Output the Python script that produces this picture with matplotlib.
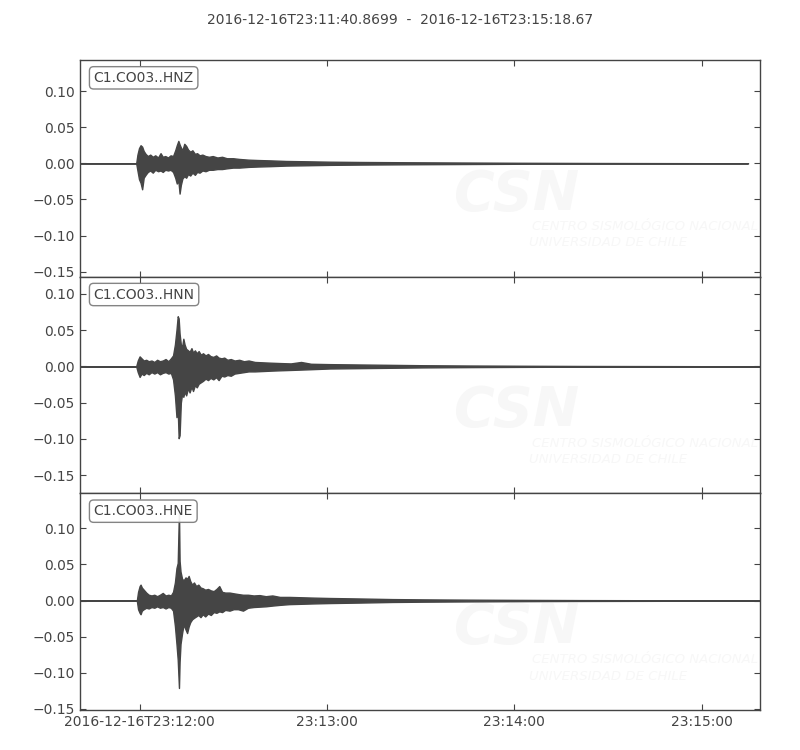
#-----------------------------------------------------------------------
#---- plot.py : trois composantes accelerometre C1.CO03 (style ObsPy)
#-----------------------------------------------------------------------

from datetime import datetime

import numpy as np
import matplotlib
matplotlib.use("Agg")
import matplotlib.pyplot as plt
import matplotlib.dates as mdates


#---- Temps de debut / fin de la fenetre
t_start = datetime(2016, 12, 16, 23, 11, 40, 869900)
t_end = datetime(2016, 12, 16, 23, 15, 18, 670000)
title = "2016-12-16T23:11:40.8699  -  2016-12-16T23:15:18.67"

channels = ["C1.CO03..HNZ", "C1.CO03..HNN", "C1.CO03..HNE"]

#---- Enveloppes (s depuis t_start, amplitude)
hnz_t = [0.0, 18.0, 18.4, 18.9, 19.4, 19.9, 20.4, 21.0, 21.7, 22.5, 23.3, 24.1,
         25.0, 25.8, 26.5, 27.3, 28.2, 29.0, 29.8, 30.5, 31.0, 31.5, 31.9, 32.3,
         32.8, 33.4, 34.0, 34.6, 35.3, 36.0, 36.8, 37.5, 38.3, 39.2, 40.2, 41.3,
         42.5, 44.0, 45.5, 47.0, 49.0, 51.0, 54.0, 57.0, 61.0, 66.0, 72.0, 80.0,
         90.0, 105.0, 120.0, 140.0, 165.0, 190.0, 214.0]
hnz_up = [0.0, 0.0, 0.012, 0.021, 0.025, 0.023, 0.017, 0.013, 0.010, 0.012, 0.009, 0.011,
          0.008, 0.014, 0.009, 0.010, 0.008, 0.011, 0.010, 0.018, 0.025, 0.031, 0.026, 0.022,
          0.018, 0.027, 0.024, 0.019, 0.016, 0.018, 0.013, 0.014, 0.011, 0.012, 0.010, 0.009,
          0.010, 0.008, 0.009, 0.007, 0.007, 0.006, 0.005, 0.0045, 0.004, 0.0032, 0.0028, 0.0022,
          0.0018, 0.0014, 0.0011, 0.0007, 0.0004, 0.0002, 0.0]
hnz_lo = [0.0, 0.0, -0.010, -0.022, -0.027, -0.036, -0.020, -0.016, -0.012, -0.010, -0.013, -0.009,
          -0.011, -0.010, -0.012, -0.009, -0.010, -0.009, -0.012, -0.020, -0.028, -0.024, -0.042, -0.030,
          -0.021, -0.018, -0.020, -0.015, -0.017, -0.013, -0.016, -0.012, -0.013, -0.010, -0.011, -0.009,
          -0.009, -0.008, -0.008, -0.007, -0.006, -0.006, -0.005, -0.0045, -0.004, -0.0032, -0.0028, -0.0022,
          -0.0018, -0.0014, -0.0011, -0.0007, -0.0004, -0.0002, 0.0]

hnn_t = [0.0, 18.0, 18.5, 19.1, 19.7, 20.4, 21.2, 22.0, 22.9, 23.8, 24.7, 25.6,
         26.5, 27.4, 28.3, 29.1, 29.8, 30.4, 30.9, 31.3, 31.6, 31.9, 32.3, 32.7,
         33.1, 33.5, 34.0, 34.6, 35.1, 35.7, 36.2, 36.8, 37.4, 38.0, 38.7, 39.4,
         40.2, 41.0, 41.8, 42.7, 43.6, 44.4, 45.3, 46.2, 47.2, 48.3, 49.5, 51.0,
         52.5, 54.0, 56.0, 58.5, 61.0, 64.0, 67.5, 70.8, 74.0, 80.0, 90.0, 100.0,
         110.0, 125.0, 140.0, 160.0, 185.0, 217.8]
hnn_up = [0.0, 0.0, 0.008, 0.0137, 0.011, 0.008, 0.009, 0.007, 0.008, 0.006, 0.009, 0.007,
          0.008, 0.010, 0.007, 0.011, 0.015, 0.030, 0.050, 0.069, 0.066, 0.045, 0.030, 0.027,
          0.038, 0.030, 0.024, 0.022, 0.020, 0.025, 0.019, 0.022, 0.018, 0.021, 0.016, 0.018,
          0.015, 0.017, 0.014, 0.013, 0.015, 0.012, 0.011, 0.012, 0.009, 0.010, 0.008, 0.009,
          0.007, 0.008, 0.006, 0.0055, 0.005, 0.0045, 0.004, 0.006, 0.0035, 0.003, 0.0025, 0.002,
          0.0015, 0.0011, 0.0008, 0.0005, 0.0003, 0.0]
hnn_lo = [0.0, 0.0, -0.008, -0.0146, -0.010, -0.012, -0.009, -0.011, -0.008, -0.010, -0.008, -0.011,
          -0.009, -0.008, -0.010, -0.009, -0.018, -0.040, -0.070, -0.060, -0.099, -0.095, -0.050, -0.038,
          -0.042, -0.035, -0.040, -0.030, -0.036, -0.028, -0.034, -0.026, -0.029, -0.024, -0.022, -0.020,
          -0.017, -0.019, -0.016, -0.018, -0.015, -0.019, -0.013, -0.014, -0.012, -0.013, -0.010, -0.009,
          -0.008, -0.007, -0.007, -0.0065, -0.006, -0.0055, -0.005, -0.0045, -0.004, -0.003, -0.0025, -0.002,
          -0.0015, -0.0011, -0.0008, -0.0005, -0.0003, 0.0]

hne_t = [0.0, 18.2, 18.6, 19.1, 19.4, 19.8, 20.4, 21.2, 22.0, 22.9, 23.8, 24.7,
         25.6, 26.5, 27.4, 28.3, 29.1, 29.8, 30.4, 30.9, 31.3, 31.7, 31.9, 32.2,
         32.7, 33.2, 33.8, 34.3, 34.8, 35.3, 35.9, 36.5, 37.2, 37.9, 38.6, 39.3,
         40.1, 41.0, 41.9, 42.8, 43.7, 44.6, 45.5, 46.5, 47.9, 49.2, 50.6, 52.2,
         53.8, 55.6, 57.5, 59.5, 61.6, 64.0, 67.0, 71.0, 75.0, 80.0, 90.0, 100.0,
         110.0, 125.0, 140.0, 160.0, 185.0, 217.8]
hne_up = [0.0, 0.0, 0.012, 0.020, 0.022, 0.018, 0.015, 0.011, 0.008, 0.007, 0.008, 0.006,
          0.008, 0.0105, 0.007, 0.008, 0.007, 0.012, 0.025, 0.045, 0.052, 0.125, 0.055, 0.040,
          0.030, 0.028, 0.032, 0.030, 0.034, 0.027, 0.022, 0.025, 0.020, 0.022, 0.018, 0.017,
          0.015, 0.016, 0.014, 0.013, 0.016, 0.020, 0.012, 0.011, 0.011, 0.010, 0.009, 0.008,
          0.008, 0.007, 0.0075, 0.006, 0.007, 0.005, 0.005, 0.0045, 0.004, 0.0035, 0.0028, 0.002,
          0.0016, 0.0012, 0.0009, 0.0006, 0.0004, 0.0]
hne_lo = [0.0, 0.0, -0.012, -0.017, -0.019, -0.014, -0.012, -0.010, -0.011, -0.009, -0.010, -0.008,
          -0.010, -0.009, -0.011, -0.009, -0.010, -0.014, -0.035, -0.060, -0.082, -0.121, -0.085, -0.060,
          -0.045, -0.033, -0.040, -0.045, -0.036, -0.030, -0.026, -0.024, -0.022, -0.020, -0.023, -0.019,
          -0.022, -0.018, -0.020, -0.016, -0.017, -0.015, -0.016, -0.013, -0.014, -0.012, -0.012, -0.014,
          -0.010, -0.009, -0.0085, -0.008, -0.007, -0.006, -0.005, -0.0045, -0.004, -0.0035, -0.0028, -0.002,
          -0.0016, -0.0012, -0.0009, -0.0006, -0.0004, 0.0]

traces_t = [hnz_t, hnn_t, hne_t]
traces_up = [hnz_up, hnn_up, hne_up]
traces_lo = [hnz_lo, hnn_lo, hne_lo]

#---- Limites verticales (echelle egale, ~0.30 par panneau)
ylims = [(-0.157, 0.143), (-0.175, 0.1235), (-0.1515, 0.1483)]
yticks = [0.10, 0.05, 0.0, -0.05, -0.10, -0.15]

#---- Graduations en temps
tick_times = [datetime(2016, 12, 16, 23, m, 0) for m in (12, 13, 14, 15)]
tick_labels = [tick_times[0].strftime("%Y-%m-%dT%H:%M:%S")] + \
              [tt.strftime("%H:%M:%S") for tt in tick_times[1:]]


#-------------------------------------------------------------------
#---- Conversion secondes -> numero de date matplotlib
#-------------------------------------------------------------------
def toNum(seconds):
    return mdates.date2num(t_start) + np.asarray(seconds) / 86400.0


#-----------------------------------------------------------------------
#---- Main script
#-----------------------------------------------------------------------
def main():

    txtCol = "#444444"
    trCol = "#454545"
    wmCol = "#f7f7f7"

    fig = plt.figure(figsize=(8, 7.5), dpi=100)
    fig.subplots_adjust(left=0.1, right=0.95, top=0.92, bottom=0.0533, hspace=0)
    axes = fig.subplots(3, 1, sharex=True)

    for i, ax in enumerate(axes):

        #--- filigrane CSN (tres pale)
        ax.text(0.55, 0.31, "CSN", transform=ax.transAxes, fontsize=40,
                fontweight="bold", style="italic", color=wmCol, zorder=0,
                clip_on=True)
        ax.text(0.664, 0.215, "CENTRO SISMOLÓGICO NACIONAL", transform=ax.transAxes,
                fontsize=9.5, style="italic", color=wmCol, zorder=0, clip_on=True)
        ax.text(0.66, 0.14, "UNIVERSIDAD DE CHILE", transform=ax.transAxes,
                fontsize=9.5, style="italic", color=wmCol, zorder=0, clip_on=True)

        #--- trace
        x = toNum(traces_t[i])
        ax.fill_between(x, traces_lo[i], traces_up[i], facecolor=trCol,
                        edgecolor=trCol, linewidth=1.0, zorder=2)

        ax.set_ylim(*ylims[i])
        ax.set_yticks(yticks)
        ax.set_yticklabels([("%.2f" % v).replace("-", "\u2212") if v != 0 else "0.00"
                            for v in yticks])
        ax.set_xlim(mdates.date2num(t_start), mdates.date2num(t_end))

        ax.tick_params(direction="in", length=4, width=0.8, colors=txtCol,
                       top=True, right=True, labelsize=10)
        for sp in ax.spines.values():
            sp.set_color(txtCol)
            sp.set_linewidth(1.0)

        ax.text(0.02, 0.95, channels[i], transform=ax.transAxes, fontsize=10,
                ha="left", va="top", color=txtCol, zorder=5,
                bbox=dict(boxstyle="round", fc="w", ec="#777777", alpha=0.9))

    axes[-1].set_xticks(mdates.date2num(tick_times))
    axes[-1].set_xticklabels(tick_labels)
    for ax in axes[:-1]:
        ax.tick_params(labelbottom=False)

    fig.text(0.5, 1 - 20 / 750.0, title, ha="center", va="center",
             fontsize=10, color=txtCol)

    fig.savefig("out.png", dpi=100)


#-----------------------------------------------------------------------
if __name__ == "__main__":
    main()
